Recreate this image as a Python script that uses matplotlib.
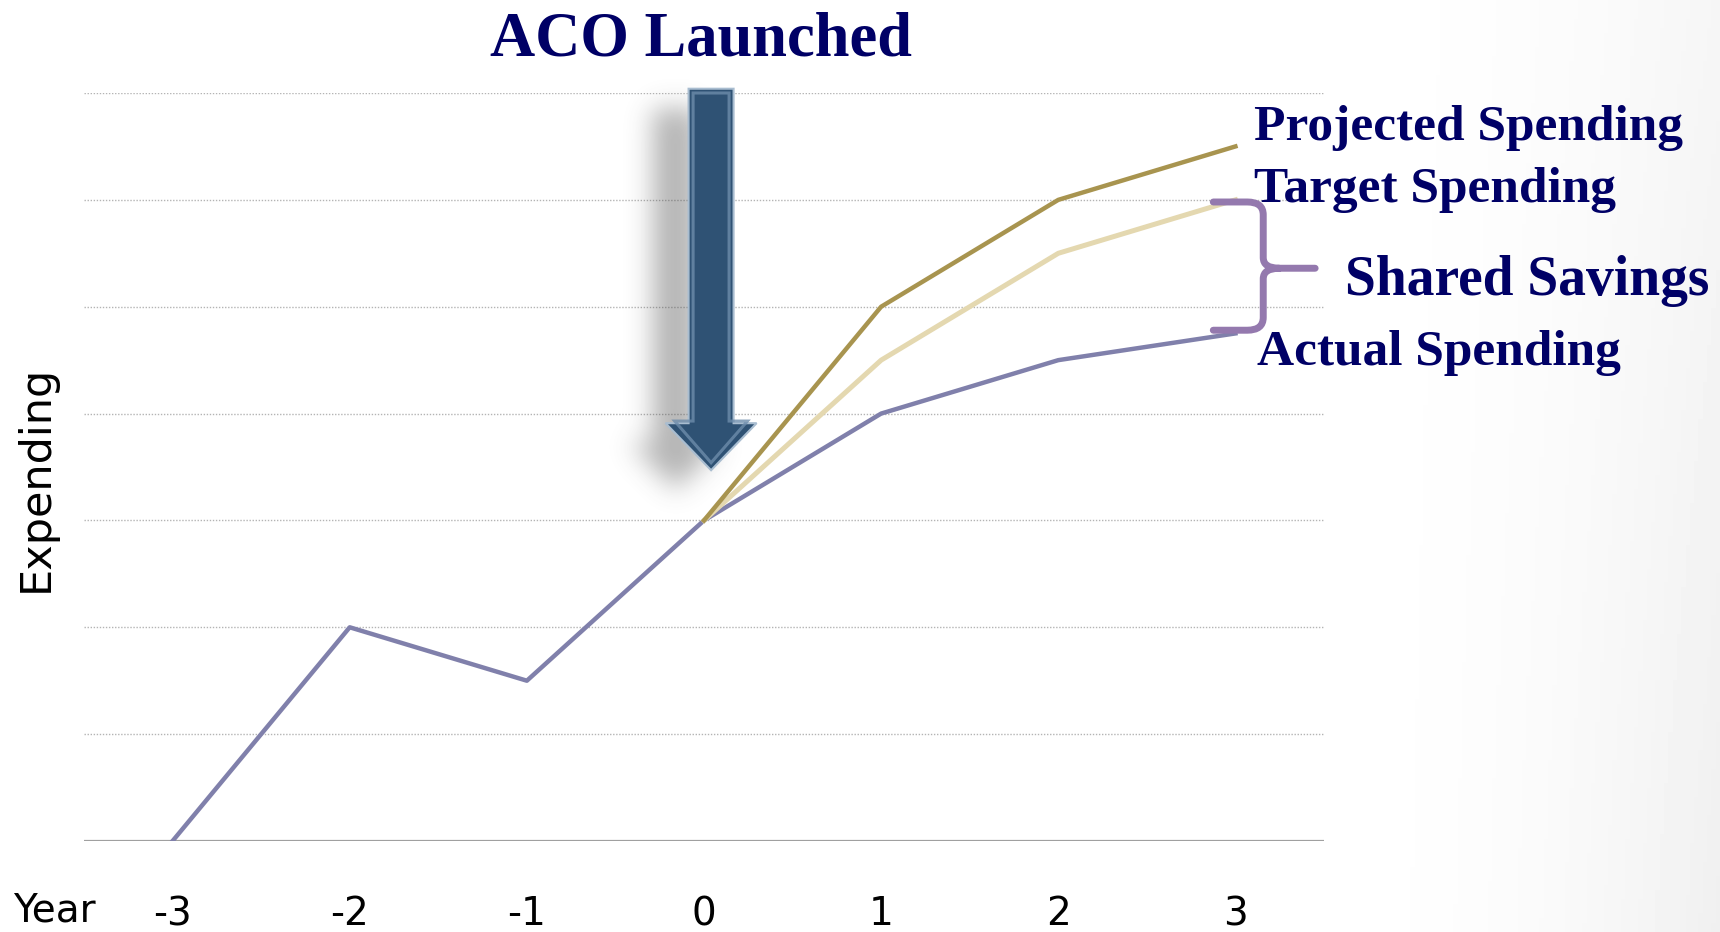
import numpy as np
import matplotlib
matplotlib.use('Agg')
import matplotlib.pyplot as plt
from matplotlib.path import Path
from matplotlib.patches import PathPatch, Polygon

# data
years = [-3, -2, -1, 0, 1, 2, 3]
actual = [0, 2, 1.5, 3, 4, 4.5, 4.75]
proj_years = [0, 1, 2, 3]
projected = [3, 5, 6, 6.5]
target = [3, 4.5, 5.5, 6]
year_labels = ["-3", "-2", "-1", "0", "1", "2", "3"]

NAVY = '#000066'
W, H = 1720, 932

fig = plt.figure(figsize=(W / 100, H / 100), dpi=100)

#-> slide background, light grey fade on the right
bg = fig.add_axes([0, 0, 1, 1], zorder=-10)
gx, gy = np.meshgrid(np.linspace(0, 1, 400), np.linspace(0, 1, 200))
shade = np.clip((gx - 0.76) / 0.24, 0, 1) ** 2.0 * (0.6 + 0.4 * gy)
bg.imshow(1 - 0.06 * shade, cmap='gray', vmin=0, vmax=1, aspect='auto',
          extent=[0, 1, 0, 1], origin='upper')
bg.set_axis_off()

ax = fig.add_axes([84 / W, 1 - 841 / H, (1324 - 84) / W, (841 - 93) / H])
ax.patch.set_alpha(0)
for s in ax.spines.values():
    s.set_visible(False)

#-> grid
for g in range(1, 8):
    ax.axhline(g, color='#b4b4b4', lw=1.0, ls=(0, (1, 1.2)), zorder=1)
ax.axhline(0, color='#a0a0a0', lw=1.6, zorder=1)

#-> arrow (with soft shadow)
cx, hs, hh, top, base, tip = 0.04, 0.127, 0.257, 7.04, 3.91, 3.47
arrow_pts = np.array([[cx - hs, top], [cx + hs, top], [cx + hs, base], [cx + hh, base],
                      [cx, tip], [cx - hh, base], [cx - hs, base]])
ex = [-0.75, 0.6, 2.9, 7.6]
nx, ny = 240, 500
xs = np.linspace(ex[0], ex[1], nx)
ys = np.linspace(ex[3], ex[2], ny)
XX, YY = np.meshgrid(xs, ys)
shadow_path = Path(arrow_pts + np.array([-0.2, -0.19]))
mask = shadow_path.contains_points(np.c_[XX.ravel(), YY.ravel()]).reshape(ny, nx).astype(float)
k = np.exp(-0.5 * (np.arange(-40, 41) / 13.0) ** 2)
k /= k.sum()
mask = np.apply_along_axis(lambda r: np.convolve(r, k, mode='same'), 1, mask)
mask = np.apply_along_axis(lambda c: np.convolve(c, k, mode='same'), 0, mask)
rgba = np.zeros((ny, nx, 4))
rgba[..., :3] = 0.3
rgba[..., 3] = 0.42 * mask
ax.imshow(rgba, extent=ex, aspect='auto', interpolation='bilinear', zorder=2, clip_on=False)

ax.add_patch(Polygon(arrow_pts, closed=True, fc='#2f5274', ec='#a9bdd0', lw=1.5,
                     zorder=5, clip_on=False))
inner = arrow_pts.copy()
inner[:, 0] = cx + (inner[:, 0] - cx) * 0.8
inner[:, 1] = inner[:, 1] + np.array([-0.04, -0.04, 0.02, 0.02, 0.07, 0.02, 0.02])
ax.add_patch(Polygon(inner, closed=True, fc='none', ec='#6d8cab', lw=2.2, alpha=0.8,
                     zorder=6, clip_on=False))

#-> series
ax.plot(years, actual, color='#8080ab', lw=3.2, zorder=4, solid_joinstyle='round')
ax.plot(proj_years, target, color='#e4d8b0', lw=3.6, zorder=4, solid_joinstyle='round')
ax.plot(proj_years, projected, color='#a8944f', lw=3.2, zorder=4, solid_joinstyle='round')

#-> curly brace for shared savings
bx0, bx1, btip = 2.875, 3.157, 3.45
yt, ym, yb = 5.98, 5.36, 4.78
verts = [(bx0, yt), (bx1 - 0.09, yt), (bx1, yt), (bx1, yt - 0.12),
         (bx1, ym + 0.1), (bx1, ym), (bx1 + 0.09, ym), (btip, ym),
         (bx1 + 0.09, ym), (bx1, ym), (bx1, ym - 0.1),
         (bx1, yb + 0.12), (bx1, yb), (bx1 - 0.09, yb), (bx0, yb)]
codes = [Path.MOVETO, Path.LINETO, Path.CURVE3, Path.CURVE3,
         Path.LINETO, Path.CURVE3, Path.CURVE3, Path.LINETO,
         Path.MOVETO, Path.CURVE3, Path.CURVE3,
         Path.LINETO, Path.CURVE3, Path.CURVE3, Path.LINETO]
ax.add_patch(PathPatch(Path(verts, codes), fc='none', ec='#9479ae', lw=5,
                       capstyle='round', joinstyle='round', zorder=7, clip_on=False))

ax.set_xlim(-3.5, 3.5)
ax.set_ylim(0, 7)
ax.set_yticks([])
ax.set_xticks(years)
ax.set_xticklabels(year_labels)
ax.tick_params(axis='x', length=0, pad=39, labelsize=28)

fig.text(13 / W, 1 - 922 / H, 'Year', fontsize=28, ha='left', va='baseline')
fig.text(36 / W, 1 - 478 / H, 'Expending', fontsize=31, rotation=90,
         ha='center', va='center')

serif = dict(family='Liberation Serif', weight='bold', color=NAVY)
fig.text(701 / W, 1 - 55 / H, 'ACO Launched', fontsize=45, ha='center', va='baseline', **serif)
fig.text(1254 / W, 1 - 140 / H, 'Projected Spending', fontsize=37, ha='left', va='baseline', **serif)
fig.text(1254 / W, 1 - 202 / H, 'Target Spending', fontsize=37, ha='left', va='baseline', **serif)
fig.text(1345 / W, 1 - 295 / H, 'Shared Savings', fontsize=40, ha='left', va='baseline', **serif)
fig.text(1257 / W, 1 - 365 / H, 'Actual Spending', fontsize=37, ha='left', va='baseline', **serif)

fig.savefig('out.png', dpi=100)
